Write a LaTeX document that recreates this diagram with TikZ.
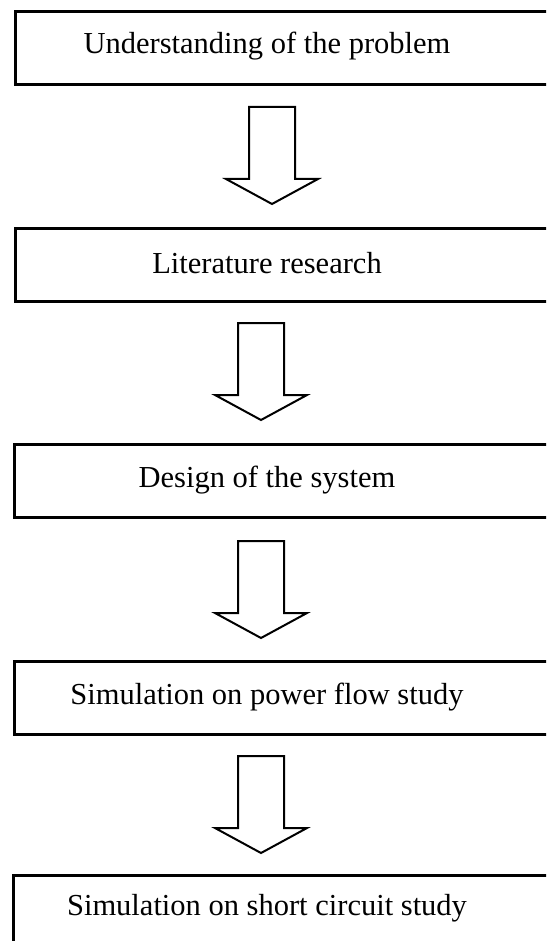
\documentclass[tikz,border=0pt]{standalone}
\usepackage{fontspec}
\setmainfont{Liberation Serif}
\tikzset{
  stepbox/.style={draw, line width=2.6pt, minimum width=560pt, minimum height=73pt, anchor=north west, inner sep=0pt},
  steptext/.style={font=\fontsize{30.5}{33}\selectfont, inner sep=0pt, anchor=center},
  blockarrow/.pic={\draw[line width=2pt, line join=miter] (-23,0) -- (23,0) -- (23,72) -- (46,72) -- (0,97) -- (-46,72) -- (-23,72) -- cycle;}
}
\begin{document}
\begin{tikzpicture}[x=1pt,y=-1pt]
\useasboundingbox (0,0) rectangle (546,941);
\clip (0,0) rectangle (546,941);
\node[stepbox] (b1) at (14,10) {};
\node[stepbox] (b2) at (14,227) {};
\node[stepbox] (b3) at (13,443) {};
\node[stepbox] (b4) at (13,660) {};
\node[stepbox] (b5) at (12,874) {};
\node[steptext] (t1) at (267,46) {Understanding of the problem};
\node[steptext] (t2) at (267,263) {Literature research};
\node[steptext] (t3) at (267,480) {Design of the system};
\node[steptext] (t4) at (267,697) {Simulation on power flow study};
\node[steptext] (t5) at (267,908) {Simulation on short circuit study};
\pic (a1) at (272,107) {blockarrow};
\pic (a2) at (261,323) {blockarrow};
\pic (a3) at (261,541) {blockarrow};
\pic (a4) at (261,756) {blockarrow};
\end{tikzpicture}
\end{document}
